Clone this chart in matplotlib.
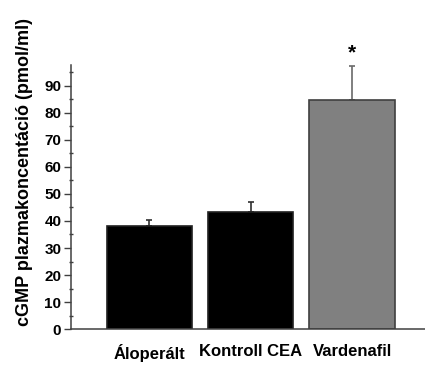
import numpy as np
import matplotlib.pyplot as plt

groups = ['Áloperált', 'Kontroll CEA', 'Vardenafil']
means = [38.1, 43.5, 84.7]
errs = [2.2, 3.4, 12.8]
colors = ['black', 'black', '#808080']
edge = ['#202020', '#202020', '#404040']
errcol = ['#303030', '#303030', '#6a6a6a']

plt.rcParams['font.family'] = ['Liberation Sans', 'DejaVu Sans']
plt.rcParams['font.weight'] = 'bold'

fig = plt.figure(figsize=(4.25, 3.66), dpi=100)
ax = fig.add_axes([0.167, 0.101, 0.84, 0.721])

x = np.arange(len(groups))
ax.bar(x, means, width=0.84, color=colors, edgecolor=edge, linewidth=1.2, zorder=2)
for xi, m, e, c in zip(x, means, errs, errcol):
    ax.errorbar(xi, m, yerr=[[0], [e]], fmt='none', ecolor=c, elinewidth=1.2,
                capsize=2.5, capthick=1.2, zorder=1)

ax.text(2, 102.3, '*', ha='center', va='center', fontsize=15, fontweight='bold',
        clip_on=False)

ax.set_xlim(-0.775, 2.75)
ax.set_ylim(0, 97.7)
ax.set_yticks(np.arange(0, 91, 10))
ax.set_yticks(np.arange(5, 96, 10), minor=True)
ax.set_xticks(x)
ax.set_xticklabels(groups, fontsize=12, fontweight='bold')
ax.tick_params(axis='x', length=0, pad=11)
ax.tick_params(axis='y', which='major', length=5, width=1, labelsize=11, pad=2,
               color='#404040')
ax.tick_params(axis='y', which='minor', length=3.5, width=1, direction='inout',
               color='#404040')
for s in ['top', 'right']:
    ax.spines[s].set_visible(False)
for s in ['left', 'bottom']:
    ax.spines[s].set_color('#404040')
    ax.spines[s].set_linewidth(1.1)
ax.set_ylabel('cGMP plazmakoncentáció (pmol/ml)', fontsize=13, fontweight='bold')
ax.yaxis.set_label_coords(-0.105, 0.595)

fig.savefig('out.png', dpi=100)
